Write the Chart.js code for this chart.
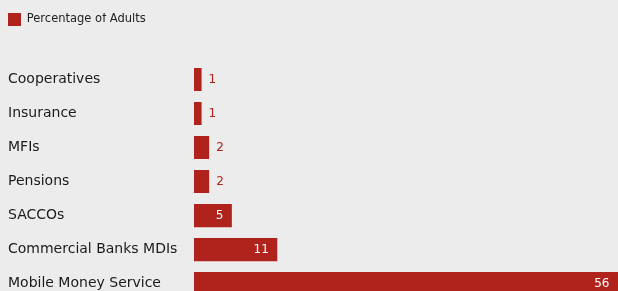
<!DOCTYPE html>
<html>
<head>
<meta charset="utf-8">
<script src="https://cdn.jsdelivr.net/npm/chart.js@4"></script>
<style>
  html, body { margin: 0; padding: 0; background: #ececec; overflow: hidden; }
</style>
</head>
<body>
<canvas id="chart" width="618" height="312"></canvas>
<script>
// Données du graphique
const categories = ['Cooperatives', 'Insurance', 'MFIs', 'Pensions', 'SACCOs', 'Commercial Banks MDIs', 'Mobile Money Service'];
const adultsPct = [1, 1, 2, 2, 5, 11, 56];
const seriesName = 'Percentage of Adults';

const barColor = '#b0231d';
const fontFamily = '"DejaVu Sans", sans-serif';

// Hauteur fixe de la légende pour placer la zone du graphique
const legendHeight = {
    id: 'legendHeight',
    beforeInit(chart) {
        const fit = chart.legend.fit;
        chart.legend.fit = function() {
            fit.bind(chart.legend)();
            this.height = 49.5;
        };
    }
};

// Étiquettes de valeur : dans la barre si elle est assez large, sinon à droite
const valueLabels = {
    id: 'valueLabels',
    afterDatasetsDraw(chart) {
        const ctx = chart.ctx;
        const meta = chart.getDatasetMeta(0);
        ctx.save();
        ctx.font = '12px ' + fontFamily;
        ctx.textBaseline = 'middle';
        meta.data.forEach((bar, i) => {
            const text = String(adultsPct[i]);
            const width = bar.x - bar.base;
            if (width > 30) {
                ctx.fillStyle = '#ffffff';
                ctx.textAlign = 'right';
                ctx.fillText(text, bar.x - 8.5, bar.y);
            } else {
                ctx.fillStyle = barColor;
                ctx.textAlign = 'left';
                ctx.fillText(text, bar.x + 7, bar.y);
            }
        });
        ctx.restore();
    }
};

new Chart(document.getElementById('chart'), {
    type: 'bar',
    data: {
        labels: categories,
        datasets: [{
            label: seriesName,
            data: adultsPct,
            backgroundColor: barColor,
            borderWidth: 0,
            categoryPercentage: 1,
            barPercentage: 0.68
        }]
    },
    options: {
        indexAxis: 'y',
        responsive: false,
        animation: false,
        layout: { padding: { left: 8, right: 0, top: 13, bottom: 0 } },
        plugins: {
            legend: {
                position: 'top',
                align: 'start',
                labels: {
                    boxWidth: 13,
                    boxHeight: 13,
                    padding: 0,
                    color: '#222',
                    font: { family: fontFamily, size: 11.5 }
                }
            },
            tooltip: { enabled: false }
        },
        scales: {
            x: {
                display: false,
                min: 0,
                max: 56
            },
            y: {
                grid: { display: false },
                border: { display: false },
                ticks: {
                    crossAlign: 'far',
                    color: '#1a1a1a',
                    font: { family: fontFamily, size: 14 }
                },
                afterFit(scale) { scale.width = 186; }
            }
        }
    },
    plugins: [legendHeight, valueLabels]
});
</script>
</body>
</html>
